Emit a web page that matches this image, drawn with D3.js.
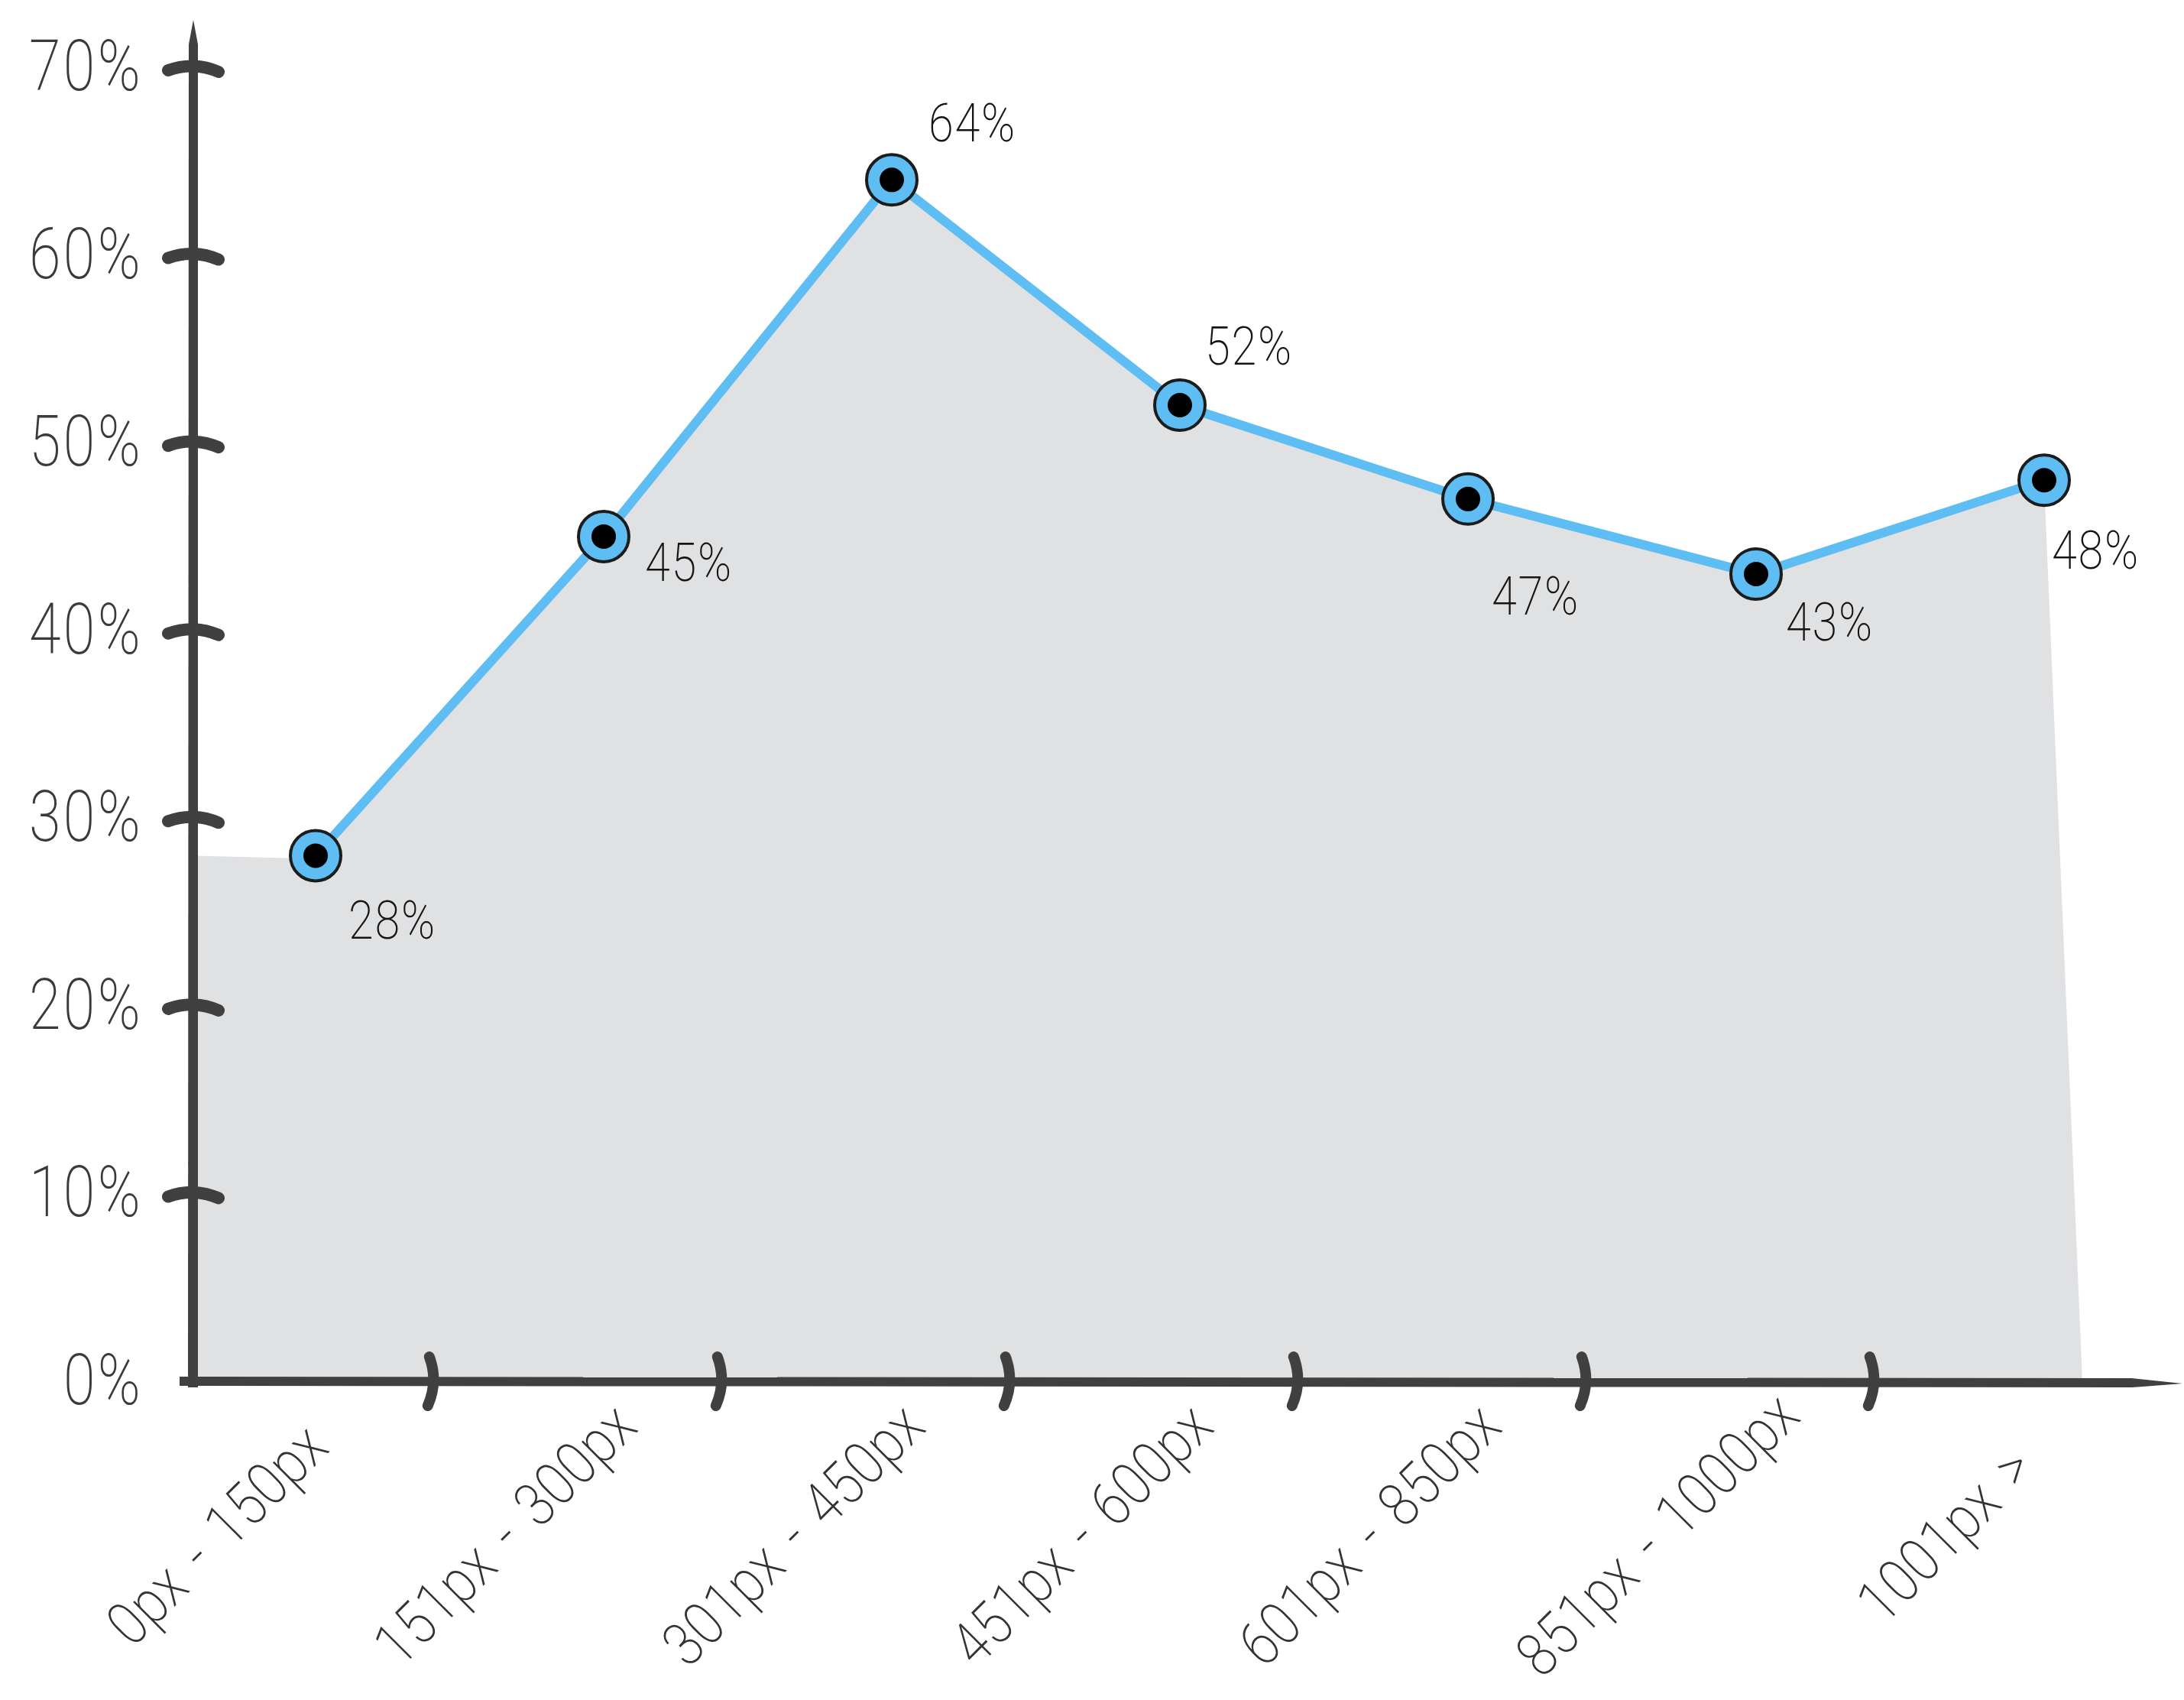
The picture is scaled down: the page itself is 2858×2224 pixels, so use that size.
<!DOCTYPE html>
<html>
<head>
<meta charset="utf-8">
<script src="https://cdn.jsdelivr.net/npm/d3@7/dist/d3.min.js"></script>
<style>
  body { margin: 0; background: #fff; }
  text { font-family: Roboto, "Open Sans", sans-serif; font-weight: 200; }
</style>
</head>
<body>
<script>
// screen width buckets and the share for each
var categories = ["0px - 150px", "151px - 300px", "301px - 450px", "451px - 600px",
                  "601px - 850px", "851px - 1000px", "1001px >"];
var values = [28, 45, 64, 52, 47, 43, 48];
var yTicks = [0, 10, 20, 30, 40, 50, 60, 70];

// where each value label sits relative to its dot
var labelOffsets = [[43, 109], [54, 58], [48, -50], [33, -53], [31, 151], [39, 87], [10, 116]];

var width = 2858, height = 2224;
var axisX = 253;

var svg = d3.select("body").append("svg")
  .attr("width", width)
  .attr("height", height);

var x = d3.scalePoint()
  .domain(categories)
  .range([413, 2675]);

var y = d3.scaleLinear()
  .domain([0, 70])
  .range([1807, 88]);

var ink = "#404040";

// grey area under the line, flat from the axis and dropping at the end
var areaPts = [[axisX, y(values[0])]];
values.forEach(function(v, i) { areaPts.push([x(categories[i]), y(v) + 4]); });
areaPts.push([x(categories[categories.length - 1]) + 50, y(0)]);
areaPts.push([axisX, y(0)]);

svg.append("path")
  .attr("d", d3.line()(areaPts) + "Z")
  .attr("fill", "#e0e1e3");

// y axis line, pointed at the top
svg.append("path")
  .attr("d", "M" + (axisX - 7) + "," + (y(0) + 8) +
             "L" + (axisX - 6) + "," + (y(70) - 30) +
             "L" + axisX + "," + (y(70) - 62) +
             "L" + (axisX + 6) + "," + (y(70) - 30) +
             "L" + (axisX + 6) + "," + (y(0) + 8) + "Z")
  .attr("fill", ink);

// x axis line, pointed at the right end
svg.append("path")
  .attr("d", "M" + (axisX - 18) + "," + (y(0) - 6) +
             "L2790," + (y(0) - 4) +
             "L2856," + (y(0) + 3) +
             "L2790," + (y(0) + 8) +
             "L" + (axisX - 18) + "," + (y(0) + 6) + "Z")
  .attr("fill", ink);

// y ticks: short bowed strokes
svg.selectAll(".ytick")
  .data(yTicks.filter(function(t) { return t > 0; }))
  .enter().append("path")
  .attr("class", "ytick")
  .attr("d", function(t) {
    var ty = y(t);
    return "M" + (axisX - 33) + "," + (ty + 4) +
           "Q" + axisX + "," + (ty - 8) + " " + (axisX + 33) + "," + (ty + 6);
  })
  .attr("fill", "none")
  .attr("stroke", ink)
  .attr("stroke-width", 16)
  .attr("stroke-linecap", "round");

// y tick labels
var yAxis = d3.axisLeft(y)
  .tickValues(yTicks)
  .tickSize(0)
  .tickPadding(0)
  .tickFormat(function(d) { return d + "%"; });

var gy = svg.append("g")
  .attr("transform", "translate(" + (axisX - 66) + ",0)")
  .call(yAxis);
gy.select(".domain").remove();
gy.selectAll(".tick text")
  .attr("transform", "scale(0.82,1)")
  .attr("font-size", 92)
  .attr("fill", "#3a3a3a")
  .attr("letter-spacing", 4)
  .attr("font-family", "Roboto, sans-serif")
  .attr("font-weight", 200);

// x ticks sit between the categories
var step = x.step();
svg.selectAll(".xtick")
  .data(categories.slice(0, -1))
  .enter().append("path")
  .attr("class", "xtick")
  .attr("d", function(c) {
    var tx = x(c) + step * 0.4;
    return "M" + (tx - 2) + "," + (y(0) - 32) +
           "Q" + (tx + 10) + "," + y(0) + " " + (tx - 4) + "," + (y(0) + 32);
  })
  .attr("fill", "none")
  .attr("stroke", ink)
  .attr("stroke-width", 14)
  .attr("stroke-linecap", "round");

// x labels, slanted
var xAxis = d3.axisBottom(x).tickSize(0);
var gx = svg.append("g")
  .attr("transform", "translate(0," + y(0) + ")")
  .call(xAxis);
gx.select(".domain").remove();
gx.selectAll("text")
  .attr("x", 0)
  .attr("y", 0)
  .attr("dy", "0.35em")
  .attr("text-anchor", "middle")
  .attr("transform", "translate(-130,200) rotate(-45) scale(0.85,1)")
  .attr("font-size", 80)
  .attr("fill", "#333")
  .attr("letter-spacing", 1)
  .attr("word-spacing", 10)
  .attr("font-family", "Roboto, sans-serif")
  .attr("font-weight", 200);

// the line
svg.append("path")
  .datum(values)
  .attr("d", d3.line()
    .x(function(d, i) { return x(categories[i]); })
    .y(function(d) { return y(d); }))
  .attr("fill", "none")
  .attr("stroke", "#5ebdf2")
  .attr("stroke-width", 12)
  .attr("stroke-linejoin", "round");

// dots
var dots = svg.selectAll(".dot")
  .data(values)
  .enter().append("g")
  .attr("class", "dot")
  .attr("transform", function(d, i) { return "translate(" + x(categories[i]) + "," + y(d) + ")"; });

dots.append("circle")
  .attr("r", 33)
  .attr("fill", "#5ebdf2")
  .attr("stroke", "#1c1c1c")
  .attr("stroke-width", 4);

dots.append("circle")
  .attr("r", 16)
  .attr("fill", "#000");

// value labels
svg.selectAll(".vlabel")
  .data(values)
  .enter().append("text")
  .attr("class", "vlabel")
  .attr("transform", function(d, i) {
    return "translate(" + (x(categories[i]) + labelOffsets[i][0]) + "," +
           (y(d) + labelOffsets[i][1]) + ") scale(0.85,1)";
  })
  .attr("font-size", 70)
  .attr("letter-spacing", 2)
  .attr("font-weight", 300)
  .attr("fill", "#151515")
  .text(function(d) { return d + "%"; });
</script>
</body>
</html>
